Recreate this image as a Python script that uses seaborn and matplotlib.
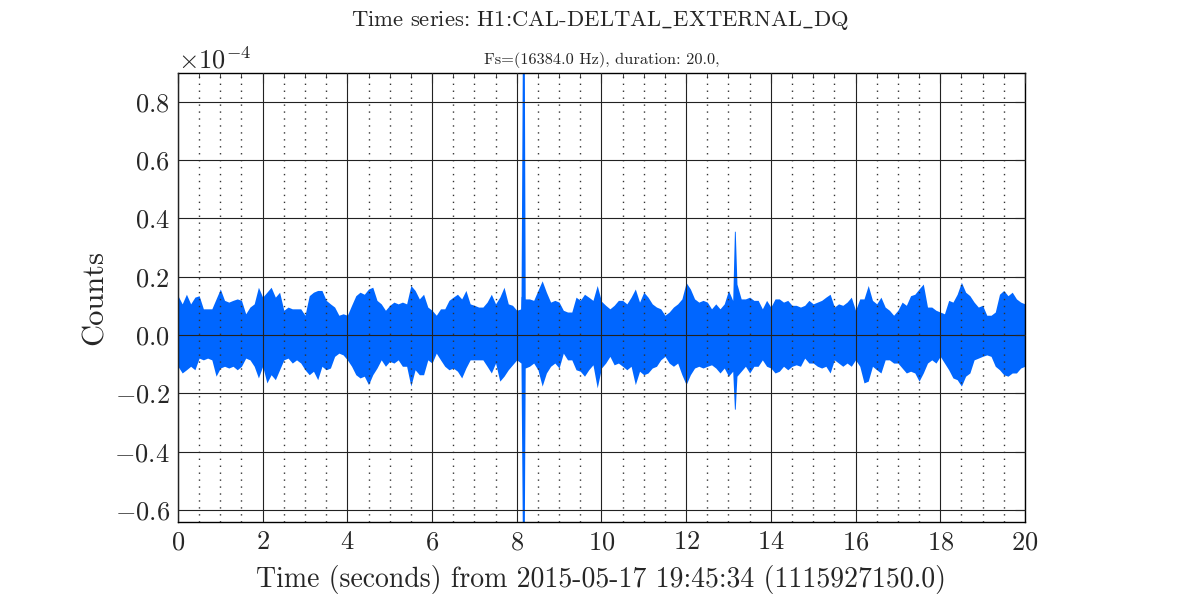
import numpy as np
import pandas as pd
import matplotlib
matplotlib.use("Agg")
import matplotlib.pyplot as plt
import seaborn as sns
from matplotlib.ticker import MultipleLocator, ScalarFormatter

# envelope of the strain series, read every 0.1 s (units of 1e-4 counts)
time = np.linspace(0, 20, 201)
upper = [
    0.135, 0.107, 0.14, 0.107, 0.13, 0.135, 0.09, 0.09, 0.09, 0.124,
    0.158, 0.119, 0.113, 0.119, 0.124, 0.119, 0.073, 0.096, 0.107, 0.164,
    0.13, 0.147, 0.164, 0.13, 0.147, 0.085, 0.096, 0.09, 0.09, 0.09,
    0.068, 0.135, 0.147, 0.153, 0.153, 0.119, 0.107, 0.096, 0.068, 0.073,
    0.068, 0.102, 0.135, 0.147, 0.14, 0.158, 0.164, 0.119, 0.107, 0.085,
    0.102, 0.113, 0.107, 0.113, 0.107, 0.17, 0.153, 0.124, 0.14, 0.096,
    0.085, 0.068, 0.09, 0.09, 0.119, 0.13, 0.14, 0.124, 0.153, 0.107,
    0.102, 0.096, 0.096, 0.113, 0.14, 0.107, 0.13, 0.164, 0.107, 0.102,
    0.085, 0.09, 0.124, 0.124, 0.119, 0.153, 0.186, 0.147, 0.113, 0.119,
    0.113, 0.085, 0.079, 0.079, 0.13, 0.119, 0.14, 0.13, 0.119, 0.17,
    0.116, 0.102, 0.09, 0.102, 0.119, 0.119, 0.107, 0.13, 0.158, 0.113,
    0.147, 0.13, 0.107, 0.096, 0.09, 0.068, 0.079, 0.096, 0.107, 0.124,
    0.18, 0.158, 0.124, 0.113, 0.119, 0.113, 0.09, 0.107, 0.09, 0.107,
    0.153, 0.119, 0.175, 0.124, 0.124, 0.13, 0.119, 0.119, 0.09, 0.119,
    0.096, 0.124, 0.124, 0.113, 0.119, 0.102, 0.102, 0.096, 0.102, 0.119,
    0.107, 0.113, 0.119, 0.13, 0.14, 0.096, 0.107, 0.102, 0.113, 0.13,
    0.085, 0.124, 0.124, 0.17, 0.119, 0.107, 0.13, 0.096, 0.085, 0.068,
    0.085, 0.113, 0.102, 0.135, 0.14, 0.158, 0.175, 0.096, 0.096, 0.085,
    0.079, 0.073, 0.119, 0.113, 0.14, 0.181, 0.147, 0.135, 0.113, 0.096,
    0.102, 0.068, 0.068, 0.079, 0.14, 0.153, 0.135, 0.147, 0.124, 0.113,
    0.107,
]
lower = [
    -0.107, -0.13, -0.119, -0.107, -0.119, -0.079, -0.085, -0.079, -0.085, -0.141,
    -0.113, -0.107, -0.113, -0.107, -0.119, -0.107, -0.079, -0.085, -0.107, -0.147,
    -0.107, -0.164, -0.136, -0.153, -0.119, -0.085, -0.079, -0.096, -0.085, -0.096,
    -0.119, -0.136, -0.124, -0.153, -0.107, -0.119, -0.113, -0.073, -0.062, -0.068,
    -0.085, -0.107, -0.136, -0.147, -0.141, -0.17, -0.136, -0.113, -0.085, -0.107,
    -0.09, -0.096, -0.085, -0.107, -0.107, -0.175, -0.119, -0.136, -0.136, -0.085,
    -0.096, -0.062, -0.085, -0.107, -0.119, -0.113, -0.124, -0.147, -0.113, -0.085,
    -0.085, -0.085, -0.085, -0.107, -0.13, -0.096, -0.158, -0.141, -0.119, -0.102,
    -0.085, -0.096, -0.113, -0.107, -0.096, -0.119, -0.175, -0.13, -0.107, -0.096,
    -0.113, -0.062, -0.085, -0.085, -0.119, -0.124, -0.141, -0.119, -0.102, -0.181,
    -0.113, -0.096, -0.073, -0.102, -0.096, -0.107, -0.119, -0.107, -0.17, -0.124,
    -0.136, -0.13, -0.113, -0.107, -0.085, -0.073, -0.096, -0.107, -0.096, -0.136,
    -0.17, -0.136, -0.113, -0.107, -0.113, -0.107, -0.102, -0.113, -0.13, -0.113,
    -0.141, -0.124, -0.141, -0.124, -0.107, -0.13, -0.107, -0.107, -0.085, -0.107,
    -0.113, -0.13, -0.124, -0.107, -0.119, -0.107, -0.102, -0.107, -0.079, -0.096,
    -0.096, -0.107, -0.113, -0.107, -0.13, -0.085, -0.096, -0.107, -0.096, -0.107,
    -0.085, -0.107, -0.164, -0.158, -0.107, -0.119, -0.13, -0.085, -0.085, -0.096,
    -0.096, -0.113, -0.13, -0.124, -0.13, -0.158, -0.13, -0.096, -0.085, -0.096,
    -0.073, -0.096, -0.119, -0.147, -0.153, -0.175, -0.141, -0.13, -0.085, -0.079,
    -0.073, -0.068, -0.073, -0.107, -0.119, -0.136, -0.141, -0.13, -0.13, -0.113,
    -0.107,
]
# glitches
spike_t = [8.13, 8.18, 13.14, 13.16]
spike_hi = [0.9, 0.9, 0.356, 0.356]
spike_lo = [-0.642, -0.642, -0.254, -0.254]

x_ticks = list(range(0, 21, 2))


class Exp4Formatter(ScalarFormatter):
    def _set_order_of_magnitude(self):
        self.orderOfMagnitude = -4

    def _set_format(self):
        self.format = r"$\mathdefault{%1.1f}$"


sns.set_theme(style="white")
plt.rcParams["font.family"] = ["cmr10", "DejaVu Serif"]
plt.rcParams["mathtext.fontset"] = "cm"
plt.rcParams["axes.formatter.use_mathtext"] = True
plt.rcParams["axes.unicode_minus"] = True

df = pd.DataFrame({
    "t": np.concatenate([time, time, spike_t, spike_t]),
    "v": np.concatenate([upper, lower, spike_hi, spike_lo]) * 1e-4,
})

fig = plt.figure(figsize=(12, 6), dpi=100)
ax = fig.add_axes([0.1483, 0.1295, 0.7058, 0.7495])
sns.lineplot(data=df, x="t", y="v", estimator="mean", errorbar=("pi", 100),
             color="#0066ff", linewidth=1, err_kws={"alpha": 1, "linewidth": 0}, ax=ax)

ax.set_xlim(0, 20)
ax.set_ylim(-0.642e-4, 0.9e-4)
ax.set_xticks(x_ticks)
ax.xaxis.set_minor_locator(MultipleLocator(0.5))
ax.yaxis.set_major_locator(MultipleLocator(0.2e-4))
ax.yaxis.set_major_formatter(Exp4Formatter(useMathText=True))
ax.yaxis.get_offset_text().set_fontsize(19)

ax.set_axisbelow(False)
ax.grid(True, which="major", color="#222222", linestyle="-", linewidth=0.8)
ax.grid(True, which="minor", axis="x", color="#333333", linestyle=(0, (1, 4)), linewidth=1.0)
ax.tick_params(which="both", direction="in", top=True, right=True, labelsize=19, pad=6)
ax.tick_params(which="major", length=7, width=0.8)
ax.tick_params(which="minor", length=3.5, width=0.6)
for s in ax.spines.values():
    s.set_color("black")
    s.set_linewidth(1)

ax.set_xlabel("Time (seconds) from 2015-05-17 19:45:34 (1115927150.0)", fontsize=20, labelpad=8)
ax.set_ylabel("Counts", fontsize=22)
ax.set_title("Fs=(16384.0 Hz), duration: 20.0,", fontsize=11.8, pad=6)
fig.suptitle(r"Time series: H1:CAL-DELTAL$\_$EXTERNAL$\_$DQ", fontsize=16.3, y=0.985)

fig.savefig("out.png", dpi=100)
